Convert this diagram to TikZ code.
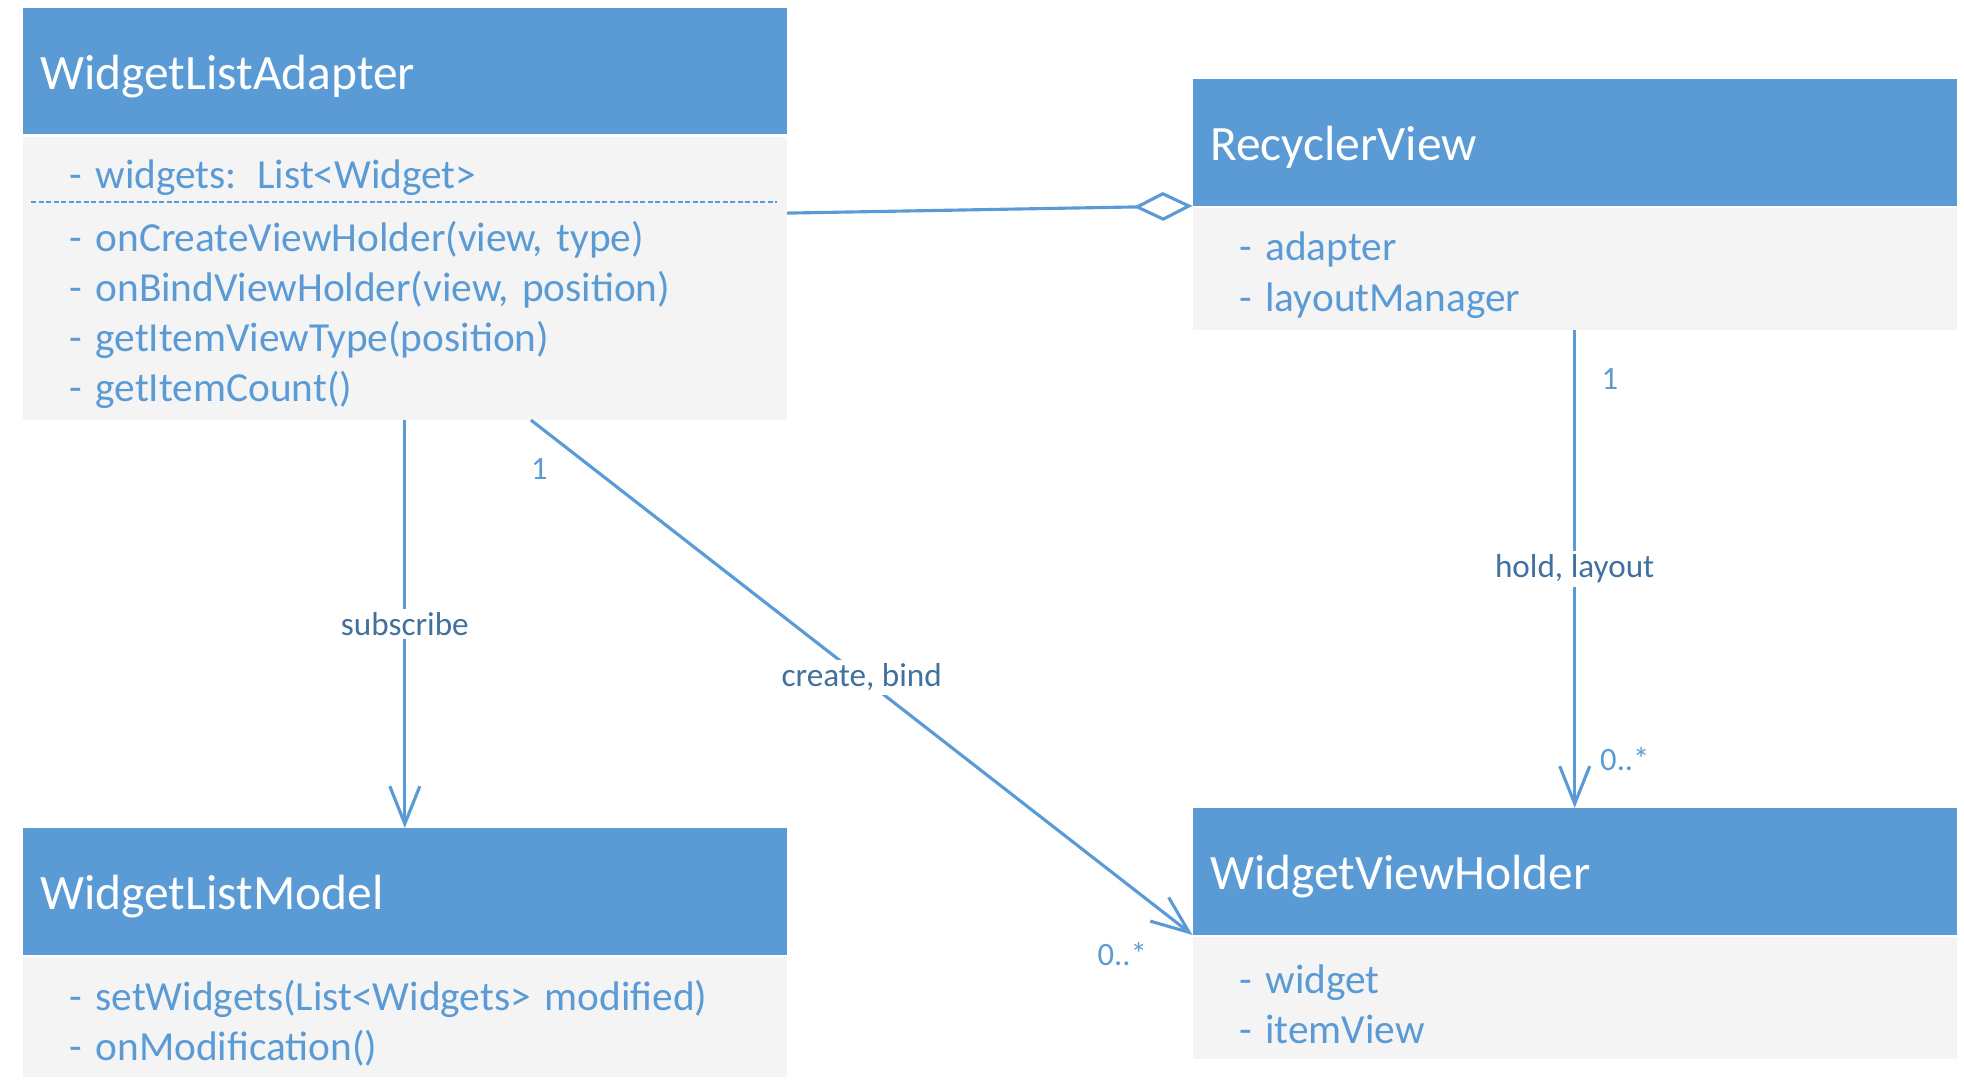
\documentclass[tikz,border=0pt]{standalone}
\usepackage{fontspec}
\setmainfont{Carlito}
\usetikzlibrary{arrows.meta,calc}
\definecolor{umlblue}{HTML}{5B9BD5}
\definecolor{umlgray}{HTML}{F4F4F4}
\definecolor{umllabel}{HTML}{41719C}

\begin{document}
\begin{tikzpicture}[x=1pt, y=-1pt,
  head/.style={fill=umlblue, text=white, anchor=north west, align=left,
    text width=582pt, inner xsep=14pt, inner ysep=0pt, minimum height=101pt,
    text height=37pt, text depth=8pt, font=\fontsize{39.5}{44}\selectfont},
  body/.style={fill=umlgray, text=umlblue, anchor=north west, align=left,
    text width=536pt, inner xsep=37pt, inner ysep=0pt,
    execute at begin node={\rule{0pt}{33pt}},
    font=\fontsize{33}{40}\selectfont},
  assoc/.style={draw=umlblue, line width=2.5pt, -{Straight Barb[length=30pt, width=24pt]}},
  aggr/.style={draw=umlblue, line width=2.5pt, -{Diamond[open, fill=white, length=47pt, width=23pt]}},
  lbl/.style={fill=white, text=umllabel, inner sep=3pt, font=\fontsize{26.5}{30}\selectfont},
  mult/.style={text=umlblue, inner sep=0pt, font=\fontsize{26}{30}\selectfont}]

\useasboundingbox (0,0) rectangle (1568,868);

% classes
\node[head] (adapterHead) at (18,6) {WidgetListAdapter};
\node[body, minimum height=226pt] (adapterBody) at (18,109) {- widgets: List<Widget>\\[10pt]
- onCreateViewHolder(view, type)\\
- onBindViewHolder(view, position)\\
- getItemViewType(position)\\
- getItemCount()};
\draw[umlblue, line width=1.5pt, dash pattern=on 4pt off 2pt]
  ($(adapterBody.north west)+(7,52)$) -- ($(adapterBody.north east)+(-8,52)$);

\node[head] (recyclerHead) at (952,63) {RecyclerView};
\node[body, minimum height=97pt] (recyclerBody) at (952,166) {- adapter\\
- layoutManager};

\node[head] (modelHead) at (18,661) {WidgetListModel};
\node[body, minimum height=96pt] (modelBody) at (18,764) {- setWidgets(List<Widgets> modified)\\
- onModification()};

\node[head] (holderHead) at (952,645) {WidgetViewHolder};
\node[body, minimum height=97pt] (holderBody) at (952,748) {- widget\\
- itemView};

% relations
\draw[aggr] ($(adapterBody.north east)!0.27!(adapterBody.south east)$) -- (recyclerHead.south west);

\draw[assoc] (adapterBody.south) -- node[lbl] {subscribe} (modelHead.north);

\draw[assoc] ($(adapterBody.south west)!0.665!(adapterBody.south east)$) -- (holderHead.south west)
  node[lbl, pos=0.5] {create, bind}
  node[mult, pos=0.06, xshift=-25pt, yshift=-14pt] {1}
  node[mult, pos=1, xshift=-56pt, yshift=-15pt] {0..*};

\draw[assoc] (recyclerBody.south) -- (holderHead.north)
  node[lbl, pos=0.5] {hold, layout}
  node[mult, pos=0, xshift=28pt, yshift=-39pt] {1}
  node[mult, pos=1, xshift=40pt, yshift=39pt] {0..*};

\end{tikzpicture}
\end{document}
